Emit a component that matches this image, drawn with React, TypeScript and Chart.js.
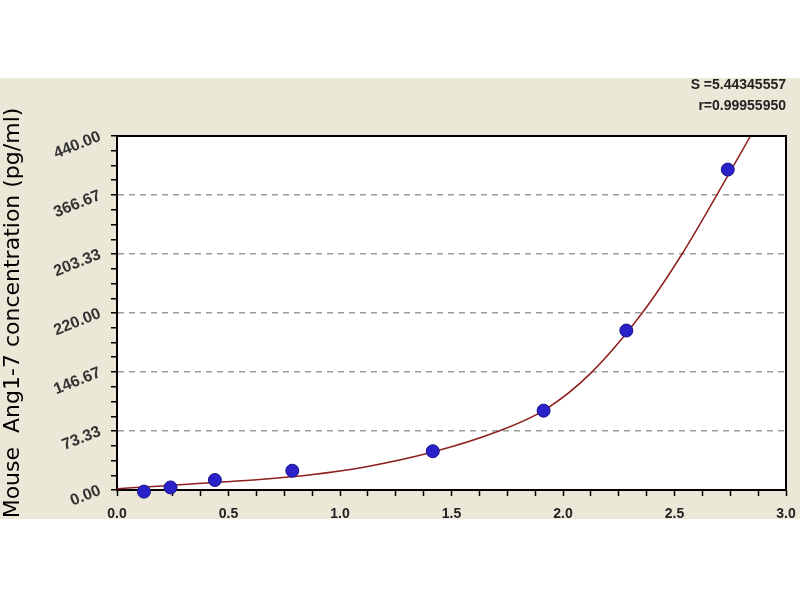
import { useEffect, useRef } from 'react'
import { Chart, registerables } from 'chart.js'

Chart.register(...registerables)

// measured standards
const pointX = [0.121, 0.24, 0.439, 0.786, 1.416, 1.913, 2.284, 2.739]
const pointY = [-2, 3.2, 12.4, 24, 48.2, 98.6, 198.2, 398.3]

// fitted curve
const curveX = [0, 0.2, 0.42, 0.64, 0.87, 1.1, 1.42, 1.7, 1.92, 2.12, 2.355, 2.534, 2.69, 2.841]
const curveY = [1.5, 5, 9, 13, 19, 28, 47.5, 72, 100, 144, 220, 293.33, 366.67, 440]

const yTicks = [0, 73.33, 146.67, 220, 293.33, 366.67, 440]
const yTickLabels = ['0.00', '73.33', '146.67', '220.00', '203.33', '366.67', '440.00']
const xTicks = [0, 0.5, 1, 1.5, 2, 2.5, 3]
const xTickLabels = ['0.0', '0.5', '1.0', '1.5', '2.0', '2.5', '3.0']
const stats = ['S =5.44345557', 'r=0.99955950']

const MINOR = 4

function withMinor(major: number[]) {
  const out: { value: number }[] = []
  for (let i = 0; i < major.length - 1; i++) {
    for (let k = 0; k < MINOR; k++) out.push({ value: major[i] + ((major[i + 1] - major[i]) * k) / MINOR })
  }
  out.push({ value: major[major.length - 1] })
  return out
}

const plotFrame = {
  id: 'plotFrame',
  beforeDraw(chart: Chart) {
    const { ctx, chartArea: a } = chart
    ctx.save()
    ctx.fillStyle = '#ffffff'
    ctx.fillRect(a.left, a.top, a.right - a.left, a.bottom - a.top)
    ctx.restore()
  },
  afterDraw(chart: Chart) {
    const { ctx, chartArea: a } = chart
    ctx.save()
    ctx.strokeStyle = '#000'
    ctx.lineWidth = 2
    ctx.beginPath()
    ctx.moveTo(a.left, a.top)
    ctx.lineTo(a.right, a.top)
    ctx.lineTo(a.right, a.bottom)
    ctx.stroke()
    ctx.restore()
  },
}

export default function App() {
  const canvasRef = useRef<HTMLCanvasElement | null>(null)
  const chartRef = useRef<Chart | null>(null)

  useEffect(() => {
    if (!canvasRef.current) return
    Chart.defaults.font.family = 'Liberation Sans'

    chartRef.current = new Chart(canvasRef.current, {
      type: 'scatter',
      data: {
        datasets: [
          {
            data: pointX.map((x, i) => ({ x, y: pointY[i] })),
            backgroundColor: '#2a22c8',
            borderColor: '#1a1488',
            borderWidth: 1,
            pointRadius: 6.5,
            clip: false,
          },
          {
            data: curveX.map((x, i) => ({ x, y: curveY[i] })),
            showLine: true,
            borderColor: '#8e1f1f',
            borderWidth: 1.5,
            pointRadius: 0,
            cubicInterpolationMode: 'monotone',
          },
        ],
      },
      plugins: [plotFrame],
      options: {
        animation: false,
        responsive: true,
        maintainAspectRatio: false,
        layout: { padding: { left: 0, right: 14, top: 0, bottom: 0 } },
        plugins: {
          legend: { display: false },
          tooltip: { enabled: false },
          title: {
            display: true,
            text: stats,
            align: 'end',
            color: '#222',
            font: { size: 14, weight: 'bold', lineHeight: 1.5 },
            padding: { top: -3, bottom: 19 },
          },
        },
        scales: {
          x: {
            type: 'linear',
            min: 0,
            max: 3,
            afterBuildTicks: (scale) => {
              scale.ticks = withMinor(xTicks)
            },
            afterFit: (scale) => {
              scale.height = 29
              scale.paddingLeft = 0
              scale.paddingRight = 0
            },
            border: { color: '#000', width: 2 },
            grid: { drawOnChartArea: false, tickLength: 6, tickColor: '#000', tickWidth: 1.5 },
            ticks: {
              autoSkip: false,
              maxRotation: 0,
              padding: 10,
              color: '#222',
              font: { size: 14, weight: 'bold' },
              callback: (_v, i) => (i % MINOR === 0 ? xTickLabels[i / MINOR] : ''),
            },
          },
          y: {
            type: 'linear',
            min: 0,
            max: 440,
            afterBuildTicks: (scale) => {
              scale.ticks = withMinor(yTicks)
            },
            afterFit: (scale) => {
              scale.width = 117
            },
            border: { color: '#000', width: 2, dash: [6, 5] },
            grid: {
              color: (c) => (c.index % MINOR === 0 ? '#9a9a9a' : 'rgba(0,0,0,0)'),
              lineWidth: 1.5,
              tickLength: 6,
              tickColor: '#000',
              tickWidth: 1.5,
            },
            ticks: {
              autoSkip: false,
              minRotation: 22,
              maxRotation: 22,
              padding: 11,
              color: '#333',
              font: { size: 16, weight: 'bold' },
              callback: (_v, i) => (i % MINOR === 0 ? yTickLabels[i / MINOR] : ''),
            },
            title: {
              display: true,
              text: 'Mouse  Ang1-7 concentration (pg/ml)',
              color: '#000',
              font: { family: 'DejaVu Sans', size: 22 },
              padding: { top: 0, bottom: 0 },
            },
          },
        },
      },
    })

    return () => chartRef.current?.destroy()
  }, [])

  return (
    <div style={{ position: 'fixed', left: 0, top: 0, width: 800, height: 600, background: '#fff' }}>
      <div style={{ position: 'absolute', left: 0, top: 78, width: 800, height: 441, background: '#ebe8d8' }}>
        <canvas ref={canvasRef} />
      </div>
    </div>
  )
}
